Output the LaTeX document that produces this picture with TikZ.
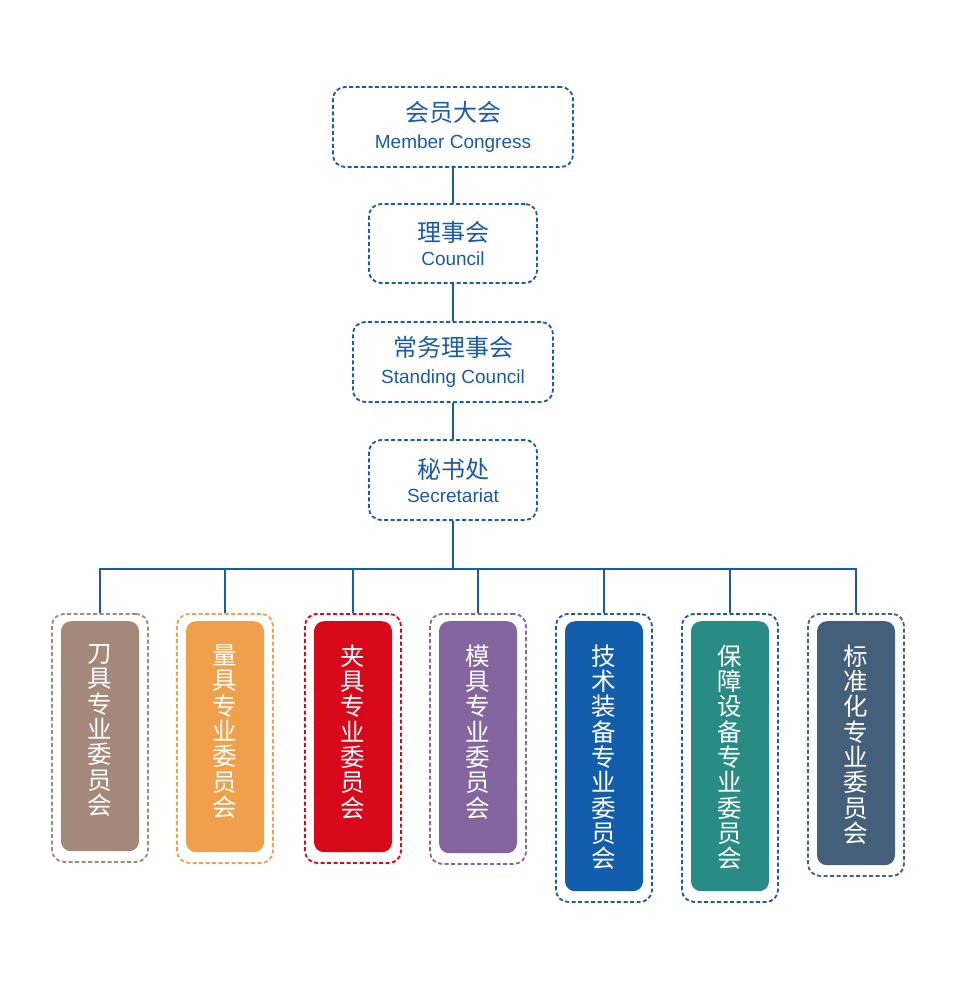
\documentclass[tikz,border=0pt]{standalone}
\usepackage{fontspec}
\setmainfont{Liberation Sans}
\newfontfamily\zh{Noto Sans CJK SC}
\newfontfamily\en{Liberation Sans}
\definecolor{navy}{HTML}{1A5BA8}
\definecolor{cbrown}{HTML}{A4887A}
\definecolor{corange}{HTML}{F0A04B}
\definecolor{cred}{HTML}{D9071A}
\definecolor{cpurple}{HTML}{8565A0}
\definecolor{cblue}{HTML}{135DAD}
\definecolor{cteal}{HTML}{288B84}
\definecolor{cslate}{HTML}{445F7A}
\newcommand{\zhl}[1]{{\zh\fontsize{24}{26}\selectfont #1}}
\newcommand{\enl}[1]{{\en\fontsize{19}{22}\selectfont #1}}
\begin{document}
\begin{tikzpicture}[x=1pt,y=-1pt,
  topbox/.style={draw=navy,line width=1.8pt,dash pattern=on 4pt off 2.5pt,rounded corners=12pt,align=center,text=navy,inner sep=0pt,font=\fontsize{19}{26}\selectfont},
  conn/.style={draw=navy,line width=2pt},
  outerbox/.style={line width=1.8pt,dash pattern=on 4pt off 2.5pt,rounded corners=12pt,minimum width=96pt,anchor=north,inner sep=0pt},
  innerbox/.style={rounded corners=10pt,minimum width=78pt,anchor=north,inner sep=0pt},
  vtext/.style={anchor=north,text=white,align=center,inner sep=0pt,font=\zh\fontsize{24.5}{25.3}\selectfont}
]
\useasboundingbox (0,0) rectangle (960,996);
\fill[white] (0,0) rectangle (960,996);

\node[topbox,minimum width=240pt,minimum height=80pt] (mc) at (453,127)
  {\zhl{会员大会}\\[1pt]\enl{Member Congress}};
\node[topbox,minimum width=168pt,minimum height=79pt] (cn) at (453,243.5)
  {\zhl{理事会}\\[-2pt]\enl{Council}};
\node[topbox,minimum width=200pt,minimum height=80pt] (sc) at (453,362)
  {\zhl{常务理事会}\\[1pt]\enl{Standing Council}};
\node[topbox,minimum width=168pt,minimum height=80pt] (se) at (453,480)
  {\zhl{秘书处}\\[-2pt]\enl{Secretariat}};

\draw[conn] (mc.south) -- (cn.north);
\draw[conn] (cn.south) -- (sc.north);
\draw[conn] (sc.south) -- (se.north);
\coordinate (bar) at (453,569);
\draw[conn] (se.south) -- (bar);

% columns
\node[outerbox,draw=cbrown,minimum height=248pt] (o1) at (100,613) {};
\node[innerbox,fill=cbrown,minimum height=230pt] (i1) at (100,621) {};
\node[vtext] (t1) at (100,644.5) {刀\\具\\专\\业\\委\\员\\会};

\node[outerbox,draw=corange,minimum height=249pt] (o2) at (225,613) {};
\node[innerbox,fill=corange,minimum height=231pt] (i2) at (225,621) {};
\node[vtext] (t2) at (225,644.5) {量\\具\\专\\业\\委\\员\\会};

\node[outerbox,draw=cred,minimum height=249pt] (o3) at (353,613) {};
\node[innerbox,fill=cred,minimum height=231pt] (i3) at (353,621) {};
\node[vtext] (t3) at (353,644.5) {夹\\具\\专\\业\\委\\员\\会};

\node[outerbox,draw=cpurple,minimum height=250pt] (o4) at (478,613) {};
\node[innerbox,fill=cpurple,minimum height=232pt] (i4) at (478,621) {};
\node[vtext] (t4) at (478,644.5) {模\\具\\专\\业\\委\\员\\会};

\node[outerbox,draw=navy,minimum height=288pt] (o5) at (604,613) {};
\node[innerbox,fill=cblue,minimum height=270pt] (i5) at (604,621) {};
\node[vtext] (t5) at (604,644.5) {技\\术\\装\\备\\专\\业\\委\\员\\会};

\node[outerbox,draw=navy,minimum height=288pt] (o6) at (730,613) {};
\node[innerbox,fill=cteal,minimum height=270pt] (i6) at (730,621) {};
\node[vtext] (t6) at (730,644.5) {保\\障\\设\\备\\专\\业\\委\\员\\会};

\node[outerbox,draw=cslate,minimum height=262pt] (o7) at (856,613) {};
\node[innerbox,fill=cslate,minimum height=244pt] (i7) at (856,621) {};
\node[vtext] (t7) at (856,644.5) {标\\准\\化\\专\\业\\委\\员\\会};

\foreach \c in {o1,o2,o3,o4,o5,o6,o7}
  \draw[conn] (bar) -| (\c.north);
\end{tikzpicture}
\end{document}
